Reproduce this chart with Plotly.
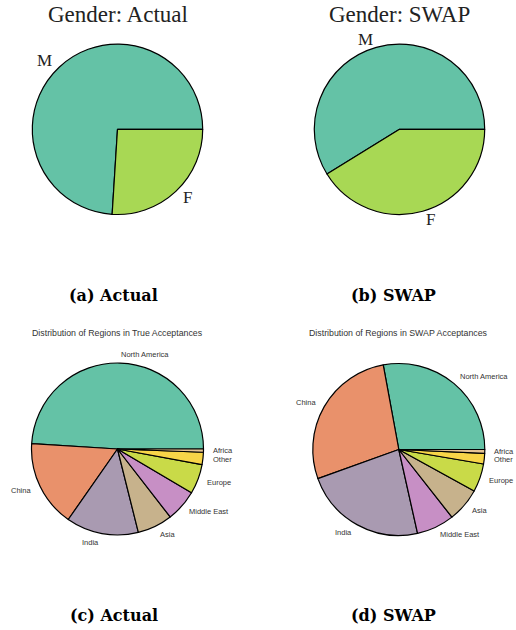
import math
import plotly.graph_objects as go

# ---- data ----
gender_labels = ["M", "F"]
gender_actual = [74.0, 26.0]
gender_swap = [58.8, 41.2]

regions_true = ["North America", "China", "India", "Asia", "Middle East", "Europe", "Other", "Africa"]
share_true = [49.0, 16.3, 13.6, 6.6, 6.0, 5.6, 2.3, 0.6]

regions_swap = ["North America", "China", "India", "Middle East", "Asia", "Europe", "Other", "Africa"]
share_swap = [27.9, 27.6, 23.0, 7.1, 6.4, 5.3, 2.0, 0.7]

# ---- styling ----
W, H = 516, 630
gender_colors = {"M": "#64c2a6", "F": "#a8d854"}
region_colors = {
    "North America": "#64c2a6",
    "China": "#e9916b",
    "India": "#a99ab1",
    "Asia": "#c7b28c",
    "Middle East": "#c78fc5",
    "Europe": "#c9da48",
    "Other": "#f8d548",
    "Africa": "#e6c494",
}
SERIF = "Liberation Serif"
CAPTION = "DejaVu Serif"
SANS = "Liberation Sans"

fig = go.Figure()
annotations = []


def px_x(x):
    return x / W


def px_y(y):
    return 1 - y / H


def add_pie(labels, values, colors, cx, cy, r, font, size, color):
    total = sum(values)
    # slices run counterclockwise starting at 3 o'clock; with a
    # counterclockwise pie plotly ends the first slice at `rotation`
    rot = 90 - 360 * values[0] / total
    fig.add_trace(go.Pie(
        labels=labels, values=values, sort=False,
        direction="counterclockwise", rotation=rot,
        marker=dict(colors=[colors[l] for l in labels],
                    line=dict(color="black", width=1.2)),
        textinfo="none", hoverinfo="label+percent", showlegend=False,
        domain=dict(x=[px_x(cx - r), px_x(cx + r)],
                    y=[px_y(cy + r), px_y(cy - r)]),
    ))
    # outer labels at 1.1 radius from the wedge mid-angle
    start = 0.0
    for lab, v in zip(labels, values):
        mid = (start + v / 2) / total * 2 * math.pi
        start += v
        lx = cx + 1.1 * r * math.cos(mid)
        ly = cy - 1.1 * r * math.sin(mid)
        annotations.append(dict(
            x=px_x(lx), y=px_y(ly), xref="paper", yref="paper",
            text=lab, showarrow=False,
            xanchor="left" if math.cos(mid) > 0 else "right", yanchor="middle",
            font=dict(family=font, size=size, color=color), borderpad=0,
        ))


def add_text(text, x, y, font, size, color="black", bold=False):
    annotations.append(dict(
        x=px_x(x), y=px_y(y), xref="paper", yref="paper",
        text=f"<b>{text}</b>" if bold else text, showarrow=False,
        xanchor="center", yanchor="middle",
        font=dict(family=font, size=size, color=color),
    ))


# gender pies
add_pie(gender_labels, gender_actual, gender_colors, 117.5, 129.3, 85.2, SERIF, 17, "#222")
add_pie(gender_labels, gender_swap, gender_colors, 399.5, 129.3, 85.2, SERIF, 17, "#222")
add_text("Gender: Actual", 117.5, 14, SERIF, 23, "#222")
add_text("Gender: SWAP", 399.5, 14, SERIF, 23, "#222")
add_text("(a) Actual", 113.5, 295, CAPTION, 16, bold=True)
add_text("(b) SWAP", 393.5, 295, CAPTION, 16, bold=True)

# region pies
add_pie(regions_true, share_true, region_colors, 117.5, 449.0, 86, SANS, 7.5, "#333")
add_pie(regions_swap, share_swap, region_colors, 398.8, 449.5, 86, SANS, 7.5, "#333")
add_text("Distribution of Regions in True Acceptances", 117.5, 333, SANS, 8.8, "#333")
add_text("Distribution of Regions in SWAP Acceptances", 398.5, 333, SANS, 8.8, "#333")
add_text("(c) Actual", 113.5, 615, CAPTION, 16, bold=True)
add_text("(d) SWAP", 393.5, 615, CAPTION, 16, bold=True)

fig.update_layout(
    width=W, height=H, margin=dict(l=0, r=0, t=0, b=0),
    paper_bgcolor="white", plot_bgcolor="white",
    annotations=annotations,
)
fig.write_html("out.html")
